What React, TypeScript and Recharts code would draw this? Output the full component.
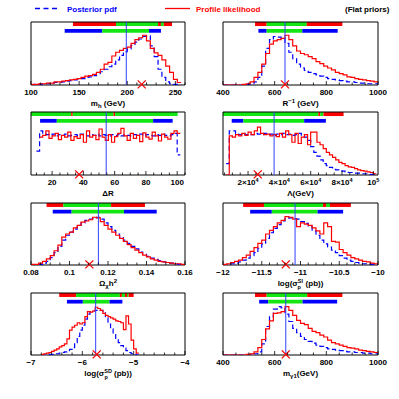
import type { ReactNode } from "react"
import { ComposedChart, Line, XAxis, YAxis, ReferenceArea, ReferenceLine, ReferenceDot } from "recharts"

const FONT = "'Liberation Sans', Arial, Helvetica, sans-serif"
const RED = "#ff0000"
const GREEN = "#14e614"
const BLUE = "#0000ff"
const FILL: Record<string, string> = { r: RED, g: GREEN, b: BLUE }

type Interval = [number, number, string]

// m_h (GeV)
const mhEdges = [100, 104, 108, 112, 116, 120, 124, 128, 132, 136, 140, 144, 148, 152, 156, 160, 164, 168, 172, 176, 180, 184, 188, 192, 196, 200, 204, 208, 212, 216, 220, 224, 228, 232, 236, 240, 244, 248, 252, 256]
const mhProf = [0.01, 0.01, 0.02, 0.02, 0.03, 0.03, 0.05, 0.05, 0.06, 0.07, 0.08, 0.09, 0.10, 0.12, 0.14, 0.15, 0.17, 0.20, 0.25, 0.33, 0.36, 0.46, 0.52, 0.55, 0.58, 0.60, 0.66, 0.72, 0.75, 0.79, 0.70, 0.58, 0.51, 0.47, 0.40, 0.30, 0.20, 0.09, 0.04, 0.04]
const mhPost = [0, 0.01, 0.01, 0.02, 0.02, 0.03, 0.04, 0.04, 0.05, 0.06, 0.07, 0.08, 0.09, 0.10, 0.12, 0.13, 0.15, 0.18, 0.21, 0.25, 0.29, 0.33, 0.40, 0.47, 0.53, 0.57, 0.63, 0.68, 0.73, 0.77, 0.78, 0.62, 0.45, 0.25, 0.12, 0.05, 0.02, 0.01, 0, 0]
const mhTicks = [100, 150, 200, 250]
const mhProfCL: Interval[] = [[143.6, 188.3, "r"], [188.3, 232, "g"], [232, 235, "r"], [235, 238, "g"], [238, 246.5, "r"]]
const mhPostCL: Interval[] = [[135, 174, "b"], [174, 222.6, "g"], [222.6, 235, "b"]]

// R^-1 (GeV)
const rEdges = [400, 415, 430, 445, 460, 475, 490, 505, 520, 535, 550, 565, 580, 595, 610, 625, 640, 655, 670, 685, 700, 715, 730, 745, 760, 775, 790, 805, 820, 835, 850, 865, 880, 895, 910, 925, 940, 955, 970, 985, 1000]
const rProf = [0, 0, 0, 0, 0, 0.01, 0.02, 0.05, 0.12, 0.20, 0.33, 0.50, 0.65, 0.70, 0.72, 0.74, 0.79, 0.72, 0.62, 0.54, 0.50, 0.48, 0.45, 0.42, 0.37, 0.34, 0.30, 0.27, 0.24, 0.20, 0.18, 0.16, 0.13, 0.12, 0.10, 0.09, 0.08, 0.07, 0.06, 0.05, 0.05]
const rPost = [0, 0, 0, 0, 0, 0, 0.01, 0.02, 0.05, 0.12, 0.30, 0.58, 0.72, 0.77, 0.76, 0.74, 0.66, 0.52, 0.42, 0.33, 0.27, 0.23, 0.20, 0.18, 0.16, 0.14, 0.12, 0.10, 0.09, 0.08, 0.07, 0.06, 0.05, 0.05, 0.04, 0.03, 0.03, 0.02, 0.02, 0.02, 0.02]
const rTicks = [400, 600, 800, 1000]
const rProfCL: Interval[] = [[524, 569, "r"], [569, 724, "g"], [724, 862, "r"]]
const rPostCL: Interval[] = [[537, 569, "b"], [569, 707, "g"], [707, 844, "b"]]

// Delta R
const drEdges = [10, 12, 14, 16, 18, 20, 22, 24, 26, 28, 30, 32, 34, 36, 38, 40, 42, 44, 46, 48, 50, 52, 54, 56, 58, 60, 62, 64, 66, 68, 70, 72, 74, 76, 78, 80, 82, 84, 86, 88, 90, 92, 94, 96, 98, 100, 102]
const drProf = [null, 0.60, 0.63, 0.70, 0.58, 0.62, 0.66, 0.56, 0.63, 0.60, 0.68, 0.55, 0.61, 0.58, 0.64, 0.52, 0.70, 0.60, 0.63, 0.56, 0.73, 0.60, 0.55, 0.64, 0.52, 0.61, 0.66, 0.74, 0.62, 0.55, 0.66, 0.58, 0.63, 0.53, 0.67, 0.60, 0.57, 0.68, 0.62, 0.54, 0.65, 0.60, 0.57, 0.66, 0.70, 0.66, 0.66]
const drPost = [0.38, 0.70, 0.66, 0.64, 0.63, 0.65, 0.62, 0.64, 0.63, 0.65, 0.62, 0.63, 0.64, 0.62, 0.65, 0.63, 0.62, 0.64, 0.63, 0.65, 0.62, 0.64, 0.63, 0.62, 0.64, 0.63, 0.65, 0.62, 0.64, 0.63, 0.62, 0.64, 0.63, 0.65, 0.62, 0.64, 0.63, 0.62, 0.64, 0.63, 0.65, 0.63, 0.62, 0.64, 0.66, 0.32, 0.32]
const drTicks = [20, 40, 60, 80, 100]
const drProfCL: Interval[] = [[6.5, 32.2, "g"], [32.2, 33.2, "r"], [33.2, 59.3, "g"], [59.3, 60.3, "r"], [60.3, 100.3, "g"]]
const drPostCL: Interval[] = [[12.3, 23, "b"], [23, 84.6, "g"], [84.6, 97.1, "b"]]

// Lambda (GeV)
const lamEdges = [6000, 8000, 10000, 12000, 14000, 16000, 18000, 20000, 22000, 24000, 26000, 28000, 30000, 32000, 34000, 36000, 38000, 40000, 42000, 44000, 46000, 48000, 50000, 52000, 54000, 56000, 58000, 60000, 62000, 64000, 66000, 68000, 70000, 72000, 74000, 76000, 78000, 80000, 82000, 84000, 86000, 88000, 90000, 92000, 94000, 96000, 98000, 100000, 102000]
const lamProf = [0, 0.62, 0.60, 0.64, 0.62, 0.66, 0.63, 0.68, 0.64, 0.70, 0.76, 0.66, 0.64, 0.65, 0.62, 0.64, 0.61, 0.66, 0.60, 0.70, 0.64, 0.52, 0.66, 0.50, 0.60, 0.64, 0.48, 0.68, 0.68, 0.52, 0.48, 0.42, 0.36, 0.32, 0.28, 0.24, 0.20, 0.18, 0.15, 0.13, 0.12, 0.10, 0.08, 0.07, 0.06, 0.05, 0.04, 0.02, 0.02]
const lamPost = [0.18, 0.70, 0.70, 0.66, 0.64, 0.66, 0.64, 0.65, 0.64, 0.66, 0.65, 0.64, 0.66, 0.64, 0.65, 0.63, 0.65, 0.64, 0.66, 0.64, 0.65, 0.63, 0.64, 0.66, 0.62, 0.60, 0.55, 0.45, 0.36, 0.30, 0.24, 0.18, 0.15, 0.12, 0.09, 0.08, 0.07, 0.06, 0.05, 0.04, 0.04, 0.03, 0.03, 0.02, 0.02, 0.02, 0.01, 0.01, 0.01]
const lamTicks = [20000, 40000, 60000, 80000, 100000]
const lamProfCL: Interval[] = [[4000, 64900, "g"], [64900, 66100, "r"], [66100, 68200, "g"], [68200, 81000, "r"]]
const lamPostCL: Interval[] = [[9570, 17000, "b"], [17000, 55840, "g"], [55840, 69700, "b"]]

// Omega h^2
const omEdges = [0.080, 0.082, 0.084, 0.086, 0.088, 0.090, 0.092, 0.094, 0.096, 0.098, 0.100, 0.102, 0.104, 0.106, 0.108, 0.110, 0.112, 0.114, 0.116, 0.118, 0.120, 0.122, 0.124, 0.126, 0.128, 0.130, 0.132, 0.134, 0.136, 0.138, 0.140, 0.142, 0.144, 0.146, 0.148, 0.150, 0.152, 0.154, 0.156, 0.158, 0.160]
const omProf = [0.01, 0.01, 0.03, 0.06, 0.10, 0.15, 0.23, 0.32, 0.45, 0.50, 0.53, 0.60, 0.64, 0.69, 0.71, 0.73, 0.77, 0.76, 0.70, 0.64, 0.58, 0.53, 0.48, 0.43, 0.38, 0.33, 0.28, 0.24, 0.20, 0.16, 0.13, 0.10, 0.08, 0.06, 0.05, 0.04, 0.03, 0.02, 0.02, 0.01, 0.01]
const omPost = [0, 0, 0.01, 0.03, 0.06, 0.12, 0.20, 0.30, 0.40, 0.48, 0.53, 0.58, 0.64, 0.68, 0.72, 0.74, 0.75, 0.77, 0.74, 0.68, 0.62, 0.56, 0.50, 0.45, 0.40, 0.35, 0.30, 0.26, 0.21, 0.17, 0.14, 0.11, 0.09, 0.07, 0.05, 0.04, 0.03, 0.02, 0.01, 0.01, 0.01]
const omTicks = [0.08, 0.1, 0.12, 0.14, 0.16]
const omProfCL: Interval[] = [[0.0881, 0.0968, "r"], [0.0968, 0.1216, "g"], [0.1216, 0.1392, "r"]]
const omPostCL: Interval[] = [[0.0913, 0.1011, "b"], [0.1011, 0.1283, "g"], [0.1283, 0.1453, "b"]]

// log(sigma SI)
const siEdges = [-12.00, -11.95, -11.90, -11.85, -11.80, -11.75, -11.70, -11.65, -11.60, -11.55, -11.50, -11.45, -11.40, -11.35, -11.30, -11.25, -11.20, -11.15, -11.10, -11.05, -11.00, -10.95, -10.90, -10.85, -10.80, -10.75, -10.70, -10.65, -10.60, -10.55, -10.50, -10.45, -10.40, -10.35, -10.30, -10.25, -10.20, -10.15, -10.10, -10.05, -10.00]
const siProf = [0.01, 0.02, 0.04, 0.06, 0.08, 0.12, 0.16, 0.22, 0.28, 0.35, 0.40, 0.50, 0.56, 0.62, 0.68, 0.72, 0.78, 0.77, 0.74, 0.62, 0.68, 0.66, 0.64, 0.60, 0.55, 0.50, 0.68, 0.62, 0.38, 0.37, 0.25, 0.20, 0.16, 0.12, 0.10, 0.08, 0.06, 0.05, 0.03, 0.02, 0.02]
const siPost = [0, 0.01, 0.02, 0.03, 0.05, 0.08, 0.11, 0.15, 0.20, 0.27, 0.34, 0.43, 0.52, 0.59, 0.65, 0.71, 0.75, 0.76, 0.75, 0.74, 0.70, 0.67, 0.62, 0.55, 0.48, 0.40, 0.34, 0.29, 0.24, 0.20, 0.15, 0.11, 0.08, 0.06, 0.04, 0.03, 0.02, 0.02, 0.01, 0.01, 0.01]
const siTicks = [-12, -11.5, -11, -10.5, -10]
const siProfCL: Interval[] = [[-11.74, -11.47, "r"], [-11.47, -10.71, "g"], [-10.71, -10.67, "r"], [-10.67, -10.62, "g"], [-10.62, -10.35, "r"]]
const siPostCL: Interval[] = [[-11.65, -11.37, "b"], [-11.37, -10.78, "g"], [-10.78, -10.45, "b"]]

// log(sigma SD)
const sdEdges = [-6.80, -6.75, -6.70, -6.65, -6.60, -6.55, -6.50, -6.45, -6.40, -6.35, -6.30, -6.25, -6.20, -6.15, -6.10, -6.05, -6.00, -5.95, -5.90, -5.85, -5.80, -5.75, -5.70, -5.65, -5.60, -5.55, -5.50, -5.45, -5.40, -5.35, -5.30, -5.25, -5.20, -5.15, -5.10, -5.05, -5.00, -4.95, -4.90]
const sdProf = [0.01, 0.02, 0.03, 0.04, 0.06, 0.08, 0.10, 0.13, 0.15, 0.18, 0.26, 0.40, 0.45, 0.48, 0.52, 0.50, 0.52, 0.62, 0.70, 0.69, 0.71, 0.77, 0.75, 0.72, 0.67, 0.64, 0.62, 0.60, 0.58, 0.55, 0.54, 0.52, 0.41, 0.63, 0.50, 0.24, 0.10, 0.03, 0.03]
const sdPost = [0, 0, 0.01, 0.01, 0.01, 0.02, 0.02, 0.03, 0.04, 0.05, 0.07, 0.09, 0.12, 0.20, 0.30, 0.40, 0.48, 0.58, 0.66, 0.70, 0.71, 0.72, 0.73, 0.72, 0.68, 0.60, 0.50, 0.42, 0.33, 0.25, 0.20, 0.15, 0.11, 0.07, 0.04, 0.02, 0.01, 0, 0]
const sdTicks = [-7, -6, -5, -4]
const sdProfCL: Interval[] = [[-6.45, -6.12, "r"], [-6.12, -5.27, "g"], [-5.27, -5.23, "r"], [-5.23, -5.17, "g"], [-5.17, -5.13, "r"], [-5.13, -5.10, "g"], [-5.10, -5.0, "r"]]
const sdPostCL: Interval[] = [[-6.3, -5.99, "b"], [-5.99, -5.47, "g"], [-5.47, -5.22, "b"]]

// m_gamma1 (GeV)
const mgEdges = [400, 415, 430, 445, 460, 475, 490, 505, 520, 535, 550, 565, 580, 595, 610, 625, 640, 655, 670, 685, 700, 715, 730, 745, 760, 775, 790, 805, 820, 835, 850, 865, 880, 895, 910, 925, 940, 955, 970, 985, 1000]
const mgProf = [0, 0, 0, 0, 0, 0, 0.01, 0.02, 0.05, 0.12, 0.25, 0.42, 0.55, 0.67, 0.68, 0.70, 0.78, 0.72, 0.64, 0.56, 0.51, 0.49, 0.43, 0.38, 0.36, 0.32, 0.29, 0.24, 0.20, 0.18, 0.16, 0.14, 0.12, 0.11, 0.10, 0.08, 0.07, 0.06, 0.05, 0.04, 0.04]
const mgPost = [0, 0, 0, 0, 0, 0, 0, 0.01, 0.02, 0.05, 0.18, 0.46, 0.62, 0.74, 0.78, 0.76, 0.66, 0.54, 0.43, 0.36, 0.30, 0.25, 0.22, 0.19, 0.16, 0.14, 0.12, 0.10, 0.09, 0.08, 0.07, 0.06, 0.05, 0.05, 0.04, 0.04, 0.03, 0.03, 0.02, 0.02, 0.02]
const mgTicks = [400, 600, 800, 1000]
const mgProfCL: Interval[] = [[524, 569, "r"], [569, 726, "g"], [726, 862, "r"]]
const mgPostCL: Interval[] = [[540, 575, "b"], [575, 708, "g"], [708, 842, "b"]]

function minorTicks(a: number, b: number, s: number) {
  const out: number[] = []
  for (let i = 0; a + i * s <= b + s * 1e-6; i++) out.push(+(a + i * s).toFixed(6))
  return out
}

const minus = (v: number) => (v < 0 ? "\u2212" + String(-v) : String(v))

type Spec = {
  x: number; y: number; w: number; h: number
  domain: [number, number]
  edges: number[]; prof: (number | null)[]; post: number[]
  ticks: number[]; minor: number
  fmt: (v: number) => ReactNode
  profCL: Interval[]; postCL: Interval[]
  mean: number; best: number
  title: ReactNode
}

const small = 5.5

const specs: Spec[] = [
  {
    x: 31, y: 22, w: 154, h: 63, domain: [100, 260], edges: mhEdges, prof: mhProf, post: mhPost,
    ticks: mhTicks, minor: 10, fmt: String, profCL: mhProfCL, postCL: mhPostCL, mean: 199, best: 215,
    title: <>m<tspan dy={2} fontSize={6}>h</tspan><tspan dy={-2}> (GeV)</tspan></>,
  },
  {
    x: 223, y: 22, w: 155, h: 63, domain: [400, 1000], edges: rEdges, prof: rProf, post: rPost,
    ticks: rTicks, minor: 50, fmt: String, profCL: rProfCL, postCL: rPostCL, mean: 640, best: 640,
    title: <>R<tspan dy={-3} fontSize={6}>{"\u22121"}</tspan><tspan dy={3}> (GeV)</tspan></>,
  },
  {
    x: 31, y: 112, w: 154, h: 63, domain: [6.5, 105], edges: drEdges, prof: drProf, post: drPost,
    ticks: drTicks, minor: 5, fmt: String, profCL: drProfCL, postCL: drPostCL, mean: 54.6, best: 37.3,
    title: <>ΔR</>,
  },
  {
    x: 223, y: 112, w: 155, h: 63, domain: [4000, 103000], edges: lamEdges, prof: lamProf, post: lamPost,
    ticks: lamTicks, minor: 5000,
    fmt: (v) => v === 100000
      ? <>10<tspan dy={-3} fontSize={small}>5</tspan></>
      : <>{v / 10000}×10<tspan dy={-3} fontSize={small}>4</tspan></>,
    profCL: lamProfCL, postCL: lamPostCL, mean: 36640, best: 26200,
    title: <>Λ(GeV)</>,
  },
  {
    x: 31, y: 203, w: 154, h: 62, domain: [0.08, 0.16], edges: omEdges, prof: omProf, post: omPost,
    ticks: omTicks, minor: 0.005, fmt: String, profCL: omProfCL, postCL: omPostCL, mean: 0.115, best: 0.1103,
    title: <>Ω<tspan dy={2} fontSize={6}>χ</tspan><tspan dy={-2}>h</tspan><tspan dy={-3} fontSize={6}>2</tspan></>,
  },
  {
    x: 223, y: 203, w: 155, h: 62, domain: [-12, -10], edges: siEdges, prof: siProf, post: siPost,
    ticks: siTicks, minor: 0.1, fmt: minus, profCL: siProfCL, postCL: siPostCL, mean: -11.07, best: -11.19,
    title: <>log(σ<tspan dy={-3} fontSize={small}>SI</tspan><tspan dx={-5.5} dy={5.5} fontSize={small}>p</tspan><tspan dx={2.5} dy={-2.5}> (pb))</tspan></>,
  },
  {
    x: 31, y: 293, w: 154, h: 62, domain: [-7, -4], edges: sdEdges, prof: sdProf, post: sdPost,
    ticks: sdTicks, minor: 0.2, fmt: minus, profCL: sdProfCL, postCL: sdPostCL, mean: -5.74, best: -5.72,
    title: <>log(σ<tspan dy={-3} fontSize={small}>SD</tspan><tspan dx={-7.5} dy={5.5} fontSize={small}>p</tspan><tspan dx={4} dy={-2.5}> (pb))</tspan></>,
  },
  {
    x: 223, y: 293, w: 155, h: 62, domain: [400, 1000], edges: mgEdges, prof: mgProf, post: mgPost,
    ticks: mgTicks, minor: 50, fmt: String, profCL: mgProfCL, postCL: mgPostCL, mean: 643, best: 643,
    title: <>m<tspan dy={2} fontSize={6}>γ1</tspan><tspan dy={-2}>(GeV)</tspan></>,
  },
]

const Cross = (p: any) => (
  <g>
    <line x1={p.cx - 4} y1={p.cy - 4} x2={p.cx + 4} y2={p.cy + 4} stroke={RED} strokeWidth={1.3} />
    <line x1={p.cx - 4} y1={p.cy + 4} x2={p.cx + 4} y2={p.cy - 4} stroke={RED} strokeWidth={1.3} />
  </g>
)

function Panel({ s }: { s: Spec }) {
  const rows = s.edges.map((x, i) => ({ x, post: s.post[i], prof: s.prof[i] }))
  const allTicks = minorTicks(s.domain[0] - (s.domain[0] % s.minor), s.domain[1], s.minor)
    .filter((t) => t >= s.domain[0] - 1e-9 && t <= s.domain[1] + 1e-9)
  const isMajor = (v: number) => s.ticks.some((m) => Math.abs(m - v) < s.minor * 1e-3)
  const ticks = [...allTicks.filter((t) => !isMajor(t)), ...s.ticks]

  const Tick = (p: any) => {
    const v = p.payload.value
    const major = isMajor(v)
    return (
      <g>
        <line x1={p.x} x2={p.x} y1={p.y} y2={p.y - (major ? 4 : 2.5)} stroke="#000" strokeWidth={0.8} />
        {major && (
          <text x={p.x} y={p.y + 9.5} textAnchor="middle" fontSize={8} fontWeight="bold" fontFamily={FONT} fill="#000">
            {s.fmt(v)}
          </text>
        )}
      </g>
    )
  }

  const Title = (p: any) => {
    const vb = p.viewBox
    return (
      <text x={vb.x + vb.width / 2} y={vb.y + 21} textAnchor="middle" fontSize={8} fontWeight="bold" fontFamily={FONT} fill="#000">
        {s.title}
      </text>
    )
  }

  return (
    <div style={{ position: "absolute", left: s.x - 20, top: s.y - 4 }}>
      <ComposedChart width={s.w + 40} height={s.h + 34} data={rows} margin={{ top: 4, right: 20, bottom: 0, left: 20 }}>
        <XAxis
          dataKey="x" type="number" domain={s.domain} allowDataOverflow ticks={ticks} interval={0}
          axisLine={false} tickLine={false} tickSize={0} tickMargin={0} height={30}
          tick={<Tick />} label={{ content: <Title /> }}
        />
        <YAxis type="number" domain={[0, 1]} hide width={0} allowDataOverflow />
        {s.profCL.map(([a, b, c], i) => (
          <ReferenceArea key={"p" + i} x1={a} x2={b} y1={0.936} y2={1} fill={FILL[c]} fillOpacity={1} stroke="none" ifOverflow="hidden" />
        ))}
        {s.postCL.map(([a, b, c], i) => (
          <ReferenceArea key={"q" + i} x1={a} x2={b} y1={0.83} y2={0.89} fill={FILL[c]} fillOpacity={1} stroke="none" ifOverflow="hidden" />
        ))}
        <ReferenceArea x1={s.domain[0]} x2={s.domain[1]} y1={0} y2={1} fill="none" fillOpacity={0} stroke="#000" strokeWidth={1} />
        <Line type="stepAfter" dataKey="post" stroke={BLUE} strokeWidth={1.2} strokeDasharray="5 3" dot={false} activeDot={false} isAnimationActive={false} />
        <Line type="stepAfter" dataKey="prof" stroke={RED} strokeWidth={1.2} dot={false} activeDot={false} isAnimationActive={false} />
        <ReferenceLine x={s.mean} stroke="#3040ff" strokeWidth={1} />
        <ReferenceDot x={s.best} y={0.01} r={4} shape={Cross} ifOverflow="visible" />
      </ComposedChart>
    </div>
  )
}

export default function App() {
  return (
    <div style={{ position: "absolute", left: 0, top: 0, width: 399, height: 399, background: "#fff" }}>
      <svg width={399} height={20} style={{ position: "absolute", left: 0, top: 0 }}>
        <line x1={35} x2={60} y1={8.5} y2={8.5} stroke={BLUE} strokeWidth={1.3} strokeDasharray="5 3.5" />
        <text x={67} y={11.5} fill={BLUE} fontSize={8} fontWeight="bold" fontFamily={FONT}>Posterior pdf</text>
        <line x1={165} x2={190} y1={8.5} y2={8.5} stroke={RED} strokeWidth={1.3} />
        <text x={196} y={11.5} fill={RED} fontSize={8} fontWeight="bold" fontFamily={FONT}>Profile likelihood</text>
        <text x={345} y={11.5} fill="#000" fontSize={8} fontWeight="bold" fontFamily={FONT}>(Flat priors)</text>
      </svg>
      {specs.map((s, i) => (
        <Panel key={i} s={s} />
      ))}
    </div>
  )
}
